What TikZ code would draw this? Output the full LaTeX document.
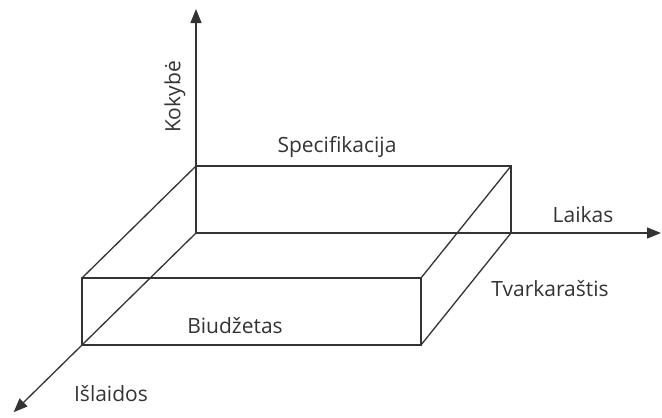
\documentclass[tikz,border=0pt]{standalone}
\usepackage{fontspec}
\setmainfont{Open Sans}
\usetikzlibrary{arrows.meta,calc}

\begin{document}
\begin{tikzpicture}[x=1pt,y=-1pt,
    edge/.style={draw=black!80,line width=1.3pt},
    axis/.style={edge,-{Triangle[length=14pt,width=11pt]}},
    lbl/.style={font=\fontsize{21}{25}\selectfont,text=black!80}]
  \useasboundingbox (0,0) rectangle (662,418);
  % back face
  \coordinate (o)   at (196,233);
  \coordinate (btl) at (196,166);
  \coordinate (btr) at (511,166);
  \coordinate (bbr) at (511,233);
  % front face
  \coordinate (ftl) at (82,278);
  \coordinate (ftr) at (421,278);
  \coordinate (fbr) at (421,345);
  \coordinate (fbl) at (82,345);
  % axis ends
  \coordinate (ktop) at (196,9);
  \coordinate (lend) at (661,233);
  \coordinate (iend) at ($(o)!1.6!(fbl)$);

  \draw[axis] (o) -- (ktop);
  \draw[axis] (o) -- (lend);
  \draw[axis] (o) -- (iend);

  \draw[edge] (btl) -- (btr) -- (bbr);
  \draw[edge] (ftl) -- (ftr) -- (fbr) -- (fbl) -- cycle;
  \draw[edge] (btl) -- (ftl);
  \draw[edge] (btr) -- (ftr);
  \draw[edge] (bbr) -- (fbr);

  \node[lbl,rotate=90] (kok)  at (175,97)  {Kokybė};
  \node[lbl] (spec) at (337,147) {Specifikacija};
  \node[lbl] (laik) at (583,215) {Laikas};
  \node[lbl] (tvar) at (550,289) {Tvarkaraštis};
  \node[lbl] (biud) at (235,326) {Biudžetas};
  \node[lbl] (isl)  at (111,394) {Išlaidos};
\end{tikzpicture}
\end{document}
